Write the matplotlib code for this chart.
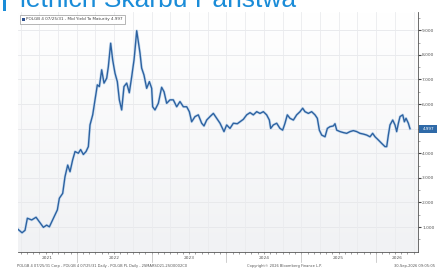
import matplotlib
matplotlib.use("Agg")
import matplotlib.pyplot as plt
import matplotlib.transforms as mtransforms
from matplotlib.colors import LinearSegmentedColormap
from matplotlib.patches import Rectangle
import numpy as np

# ---- data (decimal years, yield %) ----
dates = [2021.215, 2021.269, 2021.309, 2021.340, 2021.398, 2021.456, 2021.509, 2021.554,
         2021.598, 2021.634, 2021.678, 2021.709, 2021.741, 2021.767, 2021.812, 2021.843,
         2021.879, 2021.910, 2021.945, 2021.977, 2022.021, 2022.052, 2022.088, 2022.124,
         2022.155, 2022.177, 2022.213, 2022.244, 2022.275, 2022.302, 2022.333, 2022.364,
         2022.400, 2022.422, 2022.453, 2022.480, 2022.511, 2022.542, 2022.569, 2022.600,
         2022.631, 2022.667, 2022.702, 2022.734, 2022.765, 2022.778, 2022.801, 2022.823,
         2022.845, 2022.867, 2022.898, 2022.934, 2022.970, 2023.001, 2023.014, 2023.045,
         2023.090, 2023.134, 2023.166, 2023.201, 2023.246, 2023.290, 2023.335, 2023.379,
         2023.424, 2023.469, 2023.504, 2023.535, 2023.580, 2023.624, 2023.669, 2023.700,
         2023.736, 2023.780, 2023.825, 2023.869, 2023.914, 2023.967, 2024.003, 2024.047,
         2024.092, 2024.145, 2024.181, 2024.226, 2024.270, 2024.315, 2024.359, 2024.404,
         2024.448, 2024.493, 2024.537, 2024.573, 2024.591, 2024.626, 2024.671, 2024.715,
         2024.751, 2024.782, 2024.813, 2024.849, 2024.894, 2024.938, 2024.983, 2025.018,
         2025.049, 2025.094, 2025.138, 2025.183, 2025.214, 2025.241, 2025.272, 2025.317,
         2025.348, 2025.383, 2025.428, 2025.450, 2025.473, 2025.517, 2025.562, 2025.606,
         2025.651, 2025.695, 2025.740, 2025.784, 2025.829, 2025.873, 2025.918, 2025.953,
         2025.985, 2026.029, 2026.074, 2026.118, 2026.141, 2026.163, 2026.185, 2026.221,
         2026.252, 2026.274, 2026.297, 2026.319, 2026.355, 2026.377, 2026.399, 2026.430,
         2026.452]
yields = [0.91, 0.77, 0.87, 1.36, 1.29, 1.40, 1.18, 0.99,
          1.08, 1.01, 1.29, 1.49, 1.70, 2.17, 2.37, 3.05,
          3.52, 3.25, 3.73, 4.07, 4.00, 4.15, 3.95, 4.07,
          4.27, 5.15, 5.56, 6.17, 6.78, 6.71, 7.39, 6.85,
          7.05, 7.52, 8.47, 7.79, 7.25, 6.91, 6.17, 5.76,
          6.71, 6.85, 6.46, 7.11, 7.79, 8.20, 8.98, 8.54,
          8.07, 7.46, 7.18, 6.64, 6.91, 6.64, 5.89, 5.76,
          6.03, 6.68, 6.50, 6.03, 6.17, 6.17, 5.89, 6.10,
          5.89, 5.89, 5.69, 5.28, 5.49, 5.56, 5.22, 5.11,
          5.35, 5.49, 5.62, 5.42, 5.22, 4.88, 5.15, 5.01,
          5.22, 5.20, 5.28, 5.38, 5.56, 5.65, 5.56, 5.69,
          5.62, 5.69, 5.56, 5.35, 5.01, 5.15, 5.22, 5.01,
          4.94, 5.22, 5.56, 5.42, 5.35, 5.56, 5.69, 5.83,
          5.69, 5.62, 5.69, 5.56, 5.42, 4.94, 4.74, 4.67,
          5.01, 5.08, 5.11, 5.20, 4.94, 4.88, 4.84, 4.81,
          4.88, 4.92, 4.88, 4.81, 4.78, 4.74, 4.67, 4.81,
          4.67, 4.54, 4.40, 4.27, 4.27, 4.74, 5.15, 5.35,
          5.15, 4.88, 5.22, 5.49, 5.56, 5.28, 5.42, 5.22,
          4.997]
year_labels = ['2021', '2022', '2023', '2024', '2025', '2026']
y_ticks = [1, 2, 3, 4, 5, 6, 7, 8, 9]
last_value = 4.997
title_text = 'letnich Skarbu Państwa'
legend_text = 'POLGB 4 07/25/31 - Mid Yield To Maturity 4.997'
footer_left = 'POLGB 4 07/25/31 Corp - POLGB 4 07/25/31 Daily - POLGB PL Daily - 2SMARSO21-2SO0002C0'
footer_mid = 'Copyright\u00a9 2026 Bloomberg Finance L.P.'
footer_right = '30-Sep-2026 09:05:05'

W, H = 437, 269
fig = plt.figure(figsize=(W / 100, H / 100), dpi=100)
fig.patch.set_facecolor('white')

def fx(px):
    return px / W

def fy(py):
    return 1 - py / H

ax = fig.add_axes([fx(18), fy(251.7), fx(418) - fx(18), (251.7 - 12) / H])
xmin, xmax = 2021.215, 2026.559

# background gradient
cmap = LinearSegmentedColormap.from_list('bg', ['#f1f2f4', '#ffffff'])
ax.imshow(np.linspace(0, 1, 100).reshape(-1, 1), extent=[0, 1, 0, 1], origin='lower',
          transform=ax.transAxes, cmap=cmap, aspect='auto', zorder=0)
ax.set_xlim(xmin, xmax)
ax.set_ylim(0, 9.74)

# grid
for v in y_ticks:
    ax.axhline(v, color='#e6e7ea', lw=0.6, zorder=1)
q = np.arange(2021.0, 2027.0, 0.25)
for xv in q:
    if xmin < xv < xmax:
        ax.axvline(xv, color='#eaebee', lw=0.6, zorder=1)

# line
ax.plot(dates, yields, color='#c9dcf0', lw=2.0, zorder=2, solid_joinstyle='round')
ax.plot(dates, yields, color='#2d62a0', lw=1.0, zorder=3, solid_joinstyle='round')

# spines
for s in ['top', 'left']:
    ax.spines[s].set_visible(False)
ax.spines['right'].set_color('#555555')
ax.spines['bottom'].set_color('#555555')
ax.spines['right'].set_linewidth(0.6)
ax.spines['bottom'].set_linewidth(0.6)

ax.yaxis.tick_right()
ax.set_yticks(y_ticks)
ax.set_yticklabels(['%.3f' % v for v in y_ticks])
ax.set_yticks(np.arange(0.5, 9.6, 1.0), minor=True)
ax.tick_params(axis='y', which='major', length=2, width=0.8, color='#444444',
               labelsize=3.2, labelcolor='#555555', pad=1)
ax.tick_params(axis='y', which='minor', length=1.2, width=0.5, color='#888888')

months = np.arange(2021.0, 2026.6, 1 / 12)
ax.set_xticks([m for m in months if xmin <= m <= xmax], minor=True)
ax.set_xticks([])
ax.tick_params(axis='x', which='minor', length=1.5, width=0.5, color='#777777')

# year labels and separators
trans = mtransforms.blended_transform_factory(ax.transData, fig.transFigure)
for i, lab in enumerate(year_labels):
    y0 = int(lab)
    left = max(y0, xmin)
    right = min(y0 + 1, xmax)
    ax.text((left + right) / 2, fy(258), lab, transform=trans, ha='center', va='center',
            fontsize=3.2, color='#555555', clip_on=False)
    if xmin < y0 < xmax:
        ax.add_line(plt.Line2D([y0, y0], [fy(252.5), fy(262)], transform=trans,
                               color='#bbbbbb', lw=0.5, clip_on=False))

# last value marker box
ax.add_patch(Rectangle((1.003, last_value / 9.74 - 0.016), 0.048, 0.032,
                       transform=ax.transAxes, facecolor='#2f6aa8', edgecolor='none',
                       clip_on=False, zorder=5))
ax.text(1.027, last_value / 9.74, '%.3f' % last_value, transform=ax.transAxes,
        ha='center', va='center', fontsize=3.0, color='white', zorder=6, clip_on=False)

# legend box
fig.patches.append(Rectangle((fx(20), fy(23.5)), fx(125) - fx(20), (23.5 - 14.5) / H,
                             transform=fig.transFigure, facecolor='white',
                             edgecolor='#999999', lw=0.5, zorder=10))
fig.patches.append(Rectangle((fx(22), fy(21)), fx(2.8), 3.2 / H,
                             transform=fig.transFigure, facecolor='#2d4f8e',
                             edgecolor='none', zorder=11))
fig.text(fx(26.5), fy(19), legend_text, fontsize=3.0, color='#444444',
         va='center', ha='left', zorder=12)

# footer
fig.text(fx(17), fy(265.5), footer_left, fontsize=2.6, color='#555555', va='center', ha='left')
fig.text(fx(247), fy(265.5), footer_mid, fontsize=2.6, color='#555555', va='center', ha='left')
fig.text(fx(435), fy(265.5), footer_right, fontsize=2.6, color='#555555', va='center', ha='right')

# title (cut off at the top, as in the reference screenshot)
fig.patches.append(Rectangle((fx(3.3), fy(11)), fx(2.7), 11 / H, transform=fig.transFigure,
                             facecolor='#1a8cd8', edgecolor='none', zorder=10))
fig.text(fx(20), fy(6.7), title_text, fontsize=19, color='#1a8cd8', va='baseline',
         ha='left', family=['Liberation Sans', 'DejaVu Sans'])

fig.savefig('out.png', dpi=100, facecolor='white')
